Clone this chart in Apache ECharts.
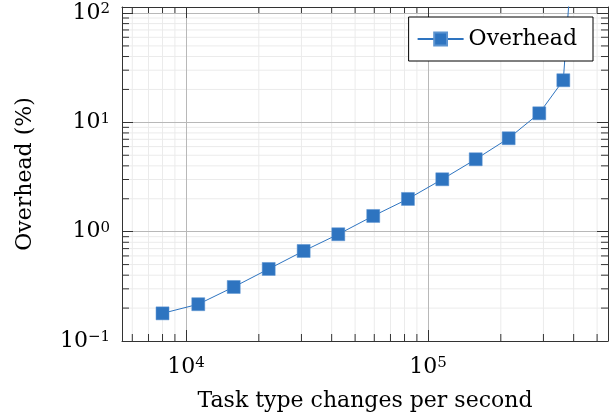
<!DOCTYPE html>
<html>
<head>
<meta charset="utf-8">
<script src="https://cdn.jsdelivr.net/npm/echarts@6/dist/echarts.min.js"></script>
<style>
  html, body { margin: 0; padding: 0; background: #fff; }
  #main { width: 610px; height: 417px; }
</style>
</head>
<body>
<div id="main"></div>
<script>
// measured points (task type changes / s  ->  overhead %)
const changesPerSec = [8000, 11240, 15750, 21970, 30640, 42600, 59400, 82650, 114600, 157500, 215500, 288400, 362500, 400000];
const overheadPct   = [0.179, 0.217, 0.312, 0.456, 0.666, 0.947, 1.392, 1.992, 3.015, 4.595, 7.152, 12.1, 24.27, 500];

// axis ranges + minor grid positions
const xRange = [5440, 554600];
const yRange = [0.1, 113.5];
const xMinor = [6000, 7000, 8000, 9000, 20000, 30000, 40000, 50000, 60000, 70000, 80000, 90000, 200000, 300000, 400000, 500000];
const yMinor = [0.2, 0.3, 0.4, 0.5, 0.6, 0.7, 0.8, 0.9, 2, 3, 4, 5, 6, 7, 8, 9, 20, 30, 40, 50, 60, 70, 80, 90];

const FONT = 'DejaVu Serif';
const BLUE = '#2e74c0';
const FRAME = '#333';

function powLabel(v) {
  const l = Math.log10(v);
  const e = Math.round(l);
  if (Math.abs(l - e) > 1e-6) return '';
  return '{b|10}{s|' + (e < 0 ? '\u2212' + (-e) : e) + '}';
}
const richTxt = {
  b: { fontFamily: FONT, fontSize: 22, lineHeight: 24, color: '#000', verticalAlign: 'middle' },
  s: { fontFamily: FONT, fontSize: 15, lineHeight: 17, color: '#000', verticalAlign: 'middle', padding: [0, 0, 7, 0] }
};

let minorData = [];
xMinor.forEach(v => minorData.push([v, yRange[0], 0]));
yMinor.forEach(v => minorData.push([xRange[0], v, 1]));

const chart = echarts.init(document.getElementById('main'));

const baseX = {
  type: 'log', min: xRange[0], max: xRange[1], z: 1,
  axisLine: { show: true, onZero: false, lineStyle: { color: FRAME, width: 1 } },
  axisTick: { show: true, inside: true, length: 11, lineStyle: { color: FRAME, width: 1 } },
  minorTick: { show: false }, minorSplitLine: { show: false }
};
const baseY = {
  type: 'log', min: yRange[0], max: yRange[1], z: 1,
  axisLine: { show: true, onZero: false, lineStyle: { color: FRAME, width: 1 } },
  axisTick: { show: true, inside: true, length: 11, lineStyle: { color: FRAME, width: 1 } },
  minorTick: { show: false }, minorSplitLine: { show: false }
};

const option = {
  animation: false,
  grid: { left: 122, right: 2, top: 7, bottom: 76 },
  legend: {
    data: ['Overhead'],
    z: 20,
    right: 17, top: 17,
    backgroundColor: '#fff',
    borderColor: '#000', borderWidth: 1, borderRadius: 0,
    padding: [11, 16, 11, 8],
    itemWidth: 46, itemHeight: 16, itemGap: 7,
    textStyle: { fontFamily: FONT, fontSize: 22, color: '#000' }
  },
  xAxis: [
    Object.assign({}, baseX, {
      position: 'bottom',
      name: 'Task type changes per second',
      nameLocation: 'middle', nameGap: 49,
      nameTextStyle: { fontFamily: FONT, fontSize: 22, color: '#000' },
      splitLine: { show: true, lineStyle: { color: '#b8b8b8', width: 1 } },
      axisLabel: { margin: 14, formatter: powLabel, rich: richTxt, showMinLabel: false, showMaxLabel: false }
    }),
    Object.assign({}, baseX, {
      position: 'top', splitLine: { show: false }, axisLabel: { show: false }
    })
  ],
  yAxis: [
    Object.assign({}, baseY, {
      position: 'left',
      name: 'Overhead (%)',
      nameLocation: 'middle', nameGap: 86,
      nameTextStyle: { fontFamily: FONT, fontSize: 22, color: '#000' },
      splitLine: { show: true, lineStyle: { color: '#b8b8b8', width: 1 } },
      axisLabel: { margin: 12, formatter: powLabel, rich: richTxt, showMinLabel: true, showMaxLabel: false }
    }),
    Object.assign({}, baseY, {
      position: 'right', splitLine: { show: false }, axisLabel: { show: false }
    })
  ],
  series: [
    {
      // minor grid + minor ticks on all four sides
      type: 'custom',
      z: 0,
      silent: true,
      xAxisIndex: 0, yAxisIndex: 0,
      data: minorData,
      encode: { x: 0, y: 1 },
      renderItem: function (params, api) {
        const kind = api.value(2);
        const grid = { stroke: '#ebebeb', lineWidth: 1 };
        const tick = { stroke: FRAME, lineWidth: 1 };
        const tl = 7;
        let a, b, kids = [];
        if (kind === 0) {
          const v = api.value(0);
          a = api.coord([v, yRange[0]]);
          b = api.coord([v, yRange[1]]);
          kids.push({ type: 'line', shape: { x1: a[0], y1: a[1], x2: b[0], y2: b[1] }, style: grid });
          kids.push({ type: 'line', shape: { x1: a[0], y1: a[1], x2: a[0], y2: a[1] - tl }, style: tick });
          kids.push({ type: 'line', shape: { x1: b[0], y1: b[1], x2: b[0], y2: b[1] + tl }, style: tick });
        } else {
          const v = api.value(1);
          a = api.coord([xRange[0], v]);
          b = api.coord([xRange[1], v]);
          kids.push({ type: 'line', shape: { x1: a[0], y1: a[1], x2: b[0], y2: b[1] }, style: grid });
          kids.push({ type: 'line', shape: { x1: a[0], y1: a[1], x2: a[0] + tl, y2: a[1] }, style: tick });
          kids.push({ type: 'line', shape: { x1: b[0], y1: b[1], x2: b[0] - tl, y2: b[1] }, style: tick });
        }
        return { type: 'group', children: kids };
      }
    },
    {
      name: 'Overhead',
      type: 'line',
      z: 2,
      clip: true,
      xAxisIndex: 0, yAxisIndex: 0,
      data: changesPerSec.map((x, i) => [x, overheadPct[i]]),
      symbol: 'rect',
      symbolSize: 13,
      showAllSymbol: true,
      color: BLUE,
      itemStyle: { color: BLUE, borderColor: '#5b93d0', borderWidth: 0.5 },
      lineStyle: { color: BLUE, width: 1 }
    }
  ]
};
chart.setOption(option);
</script>
</body>
</html>
